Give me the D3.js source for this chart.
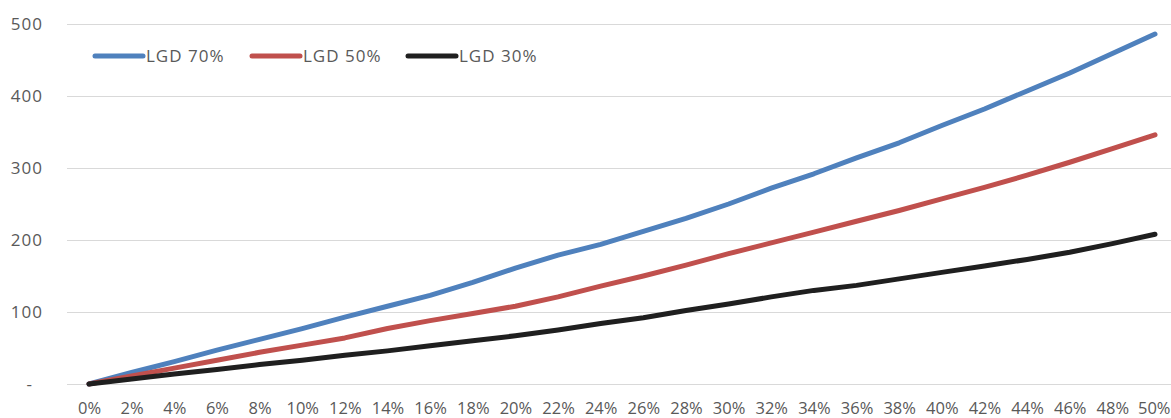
<!DOCTYPE html>
<html>
<head>
<meta charset="utf-8">
<script src="https://cdn.jsdelivr.net/npm/d3@7"></script>
<style>
  html, body { margin: 0; padding: 0; background: #fff; }
  svg { display: block; }
  text { font-family: "Open Sans", "Noto Sans", sans-serif; fill: #595959; }
</style>
</head>
<body>
<svg id="chart" width="1171" height="418"></svg>
<script>
const categories = ["0%","2%","4%","6%","8%","10%","12%","14%","16%","18%","20%","22%","24%","26%","28%","30%","32%","34%","36%","38%","40%","42%","44%","46%","48%","50%"];
const lgd70 = [0,16,31,47,62,77,93,108,123,141,161,179,194,212,230,250,272,292,314,335,359,382,407,432,459,486];
const lgd50 = [0,11,22,33,44,54,64,77,88,98,108,121,136,150,165,181,196,211,226,241,257,273,290,308,327,346];
const lgd30 = [0,7,14,20,27,33,40,46,53,60,67,75,84,92,102,111,121,130,137,146,155,164,173,183,195,208];
const seriesNames = ["LGD 70%","LGD 50%","LGD 30%"];
const seriesColors = ["#4f81bd","#c0504d","#1f1f1f"];
const yTicks = [0,100,200,300,400,500];

const series = [lgd70, lgd50, lgd30].map((v,i) => ({name: seriesNames[i], color: seriesColors[i], values: v}));

const svg = d3.select("#chart");
const x = d3.scalePoint().domain(categories).range([89, 1155]);
const y = d3.scaleLinear().domain([0, 500]).range([384, 24]);

// gridlines
svg.append("g").selectAll("line").data(yTicks).join("line")
  .attr("x1", 67).attr("x2", 1171)
  .attr("y1", d => Math.round(y(d)) + 0.5).attr("y2", d => Math.round(y(d)) + 0.5)
  .attr("stroke", "#d9d9d9").attr("stroke-width", 1);

// y axis labels
const yAxis = d3.axisLeft(y).tickValues(yTicks).tickSize(0).tickPadding(0)
  .tickFormat(d => d === 0 ? "-" : d3.format("d")(d));
const gy = svg.append("g").attr("transform", "translate(43,0)").call(yAxis);
gy.select(".domain").remove();
gy.selectAll("text").style("font-size", "17px").style("letter-spacing", "1px").attr("fill", "#595959")
  .attr("dx", d => d === 0 ? -10 : 0);

// x axis labels
const xAxis = d3.axisBottom(x).tickSize(0).tickPadding(0);
const gx = svg.append("g").attr("transform", "translate(0,402)").call(xAxis);
gx.select(".domain").remove();
gx.selectAll("text").style("font-size", "16.5px").attr("fill", "#595959");
gx.selectAll("text").filter(d => d === categories[categories.length - 1])
  .attr("text-anchor", "end").attr("x", 1170 - x(categories[categories.length - 1]));

// lines
const line = d3.line().x((d, i) => x(categories[i])).y(d => y(d));
svg.append("g").selectAll("path").data(series).join("path")
  .attr("d", d => line(d.values))
  .attr("fill", "none")
  .attr("stroke", d => d.color)
  .attr("stroke-width", 5)
  .attr("stroke-linecap", "round")
  .attr("stroke-linejoin", "round");

// legend
const legendX = [95, 252, 408];
const lg = svg.append("g").selectAll("g").data(series).join("g")
  .attr("transform", (d, i) => `translate(${legendX[i]},56)`);
lg.append("line").attr("x1", 0).attr("x2", 48).attr("y1", 0).attr("y2", 0)
  .attr("stroke", d => d.color).attr("stroke-width", 5).attr("stroke-linecap", "round");
lg.append("text").attr("x", 51).attr("y", 6).style("font-size", "17px").style("letter-spacing", "1px")
  .text(d => d.name);
</script>
</body>
</html>
